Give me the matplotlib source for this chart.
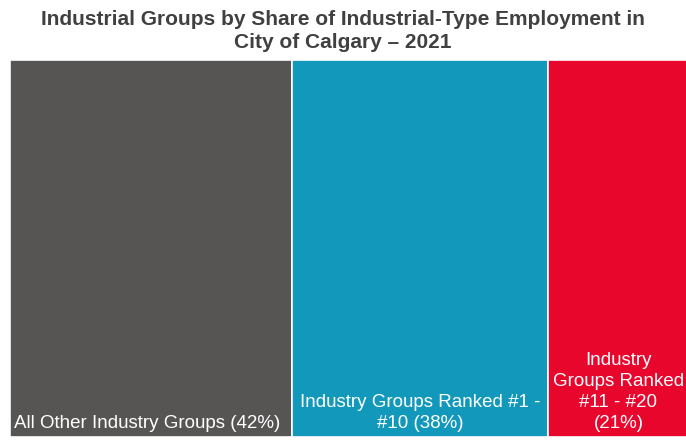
import matplotlib.pyplot as plt
import numpy as np

plt.rcParams['font.family'] = ['Liberation Sans', 'DejaVu Sans']

# employment share by group (%)
groups = ["All Other Industry Groups (42%)",
          "Industry Groups Ranked #1 -\n#10 (38%)",
          "Industry\nGroups Ranked\n#11 - #20\n(21%)"]
shares = [42, 38, 21]
colors = ['#575454', '#1198ba', '#e8062c']

fig = plt.figure(figsize=(6.86, 4.42), dpi=100)
ax = fig.add_axes([10 / 686, 5 / 442, 679 / 686, 377 / 442])

lefts = np.concatenate([[0], np.cumsum(shares)[:-1]])
ax.bar(lefts, 1, width=shares, align='edge', color=colors,
       edgecolor='white', linewidth=1.2)

# labels sit at the bottom of each block
ax.text(lefts[0] + 0.6, 0.012, groups[0], color='white', fontsize=13.5,
        ha='left', va='bottom')
for i in (1, 2):
    ax.text(lefts[i] + shares[i] / 2, 0.012, groups[i], color='white',
            fontsize=13.5, ha='center', va='bottom', linespacing=1.32,
            multialignment='center')

ax.set_xlim(0, sum(shares))
ax.set_ylim(0, 1)
ax.axis('off')

fig.text(0.5, 0.978, "Industrial Groups by Share of Industrial-Type Employment in\nCity of Calgary \u2013 2021",
         ha='center', va='top', fontsize=15, fontweight='bold', color='#404040',
         linespacing=1.3)

fig.savefig('out.png', dpi=100)
